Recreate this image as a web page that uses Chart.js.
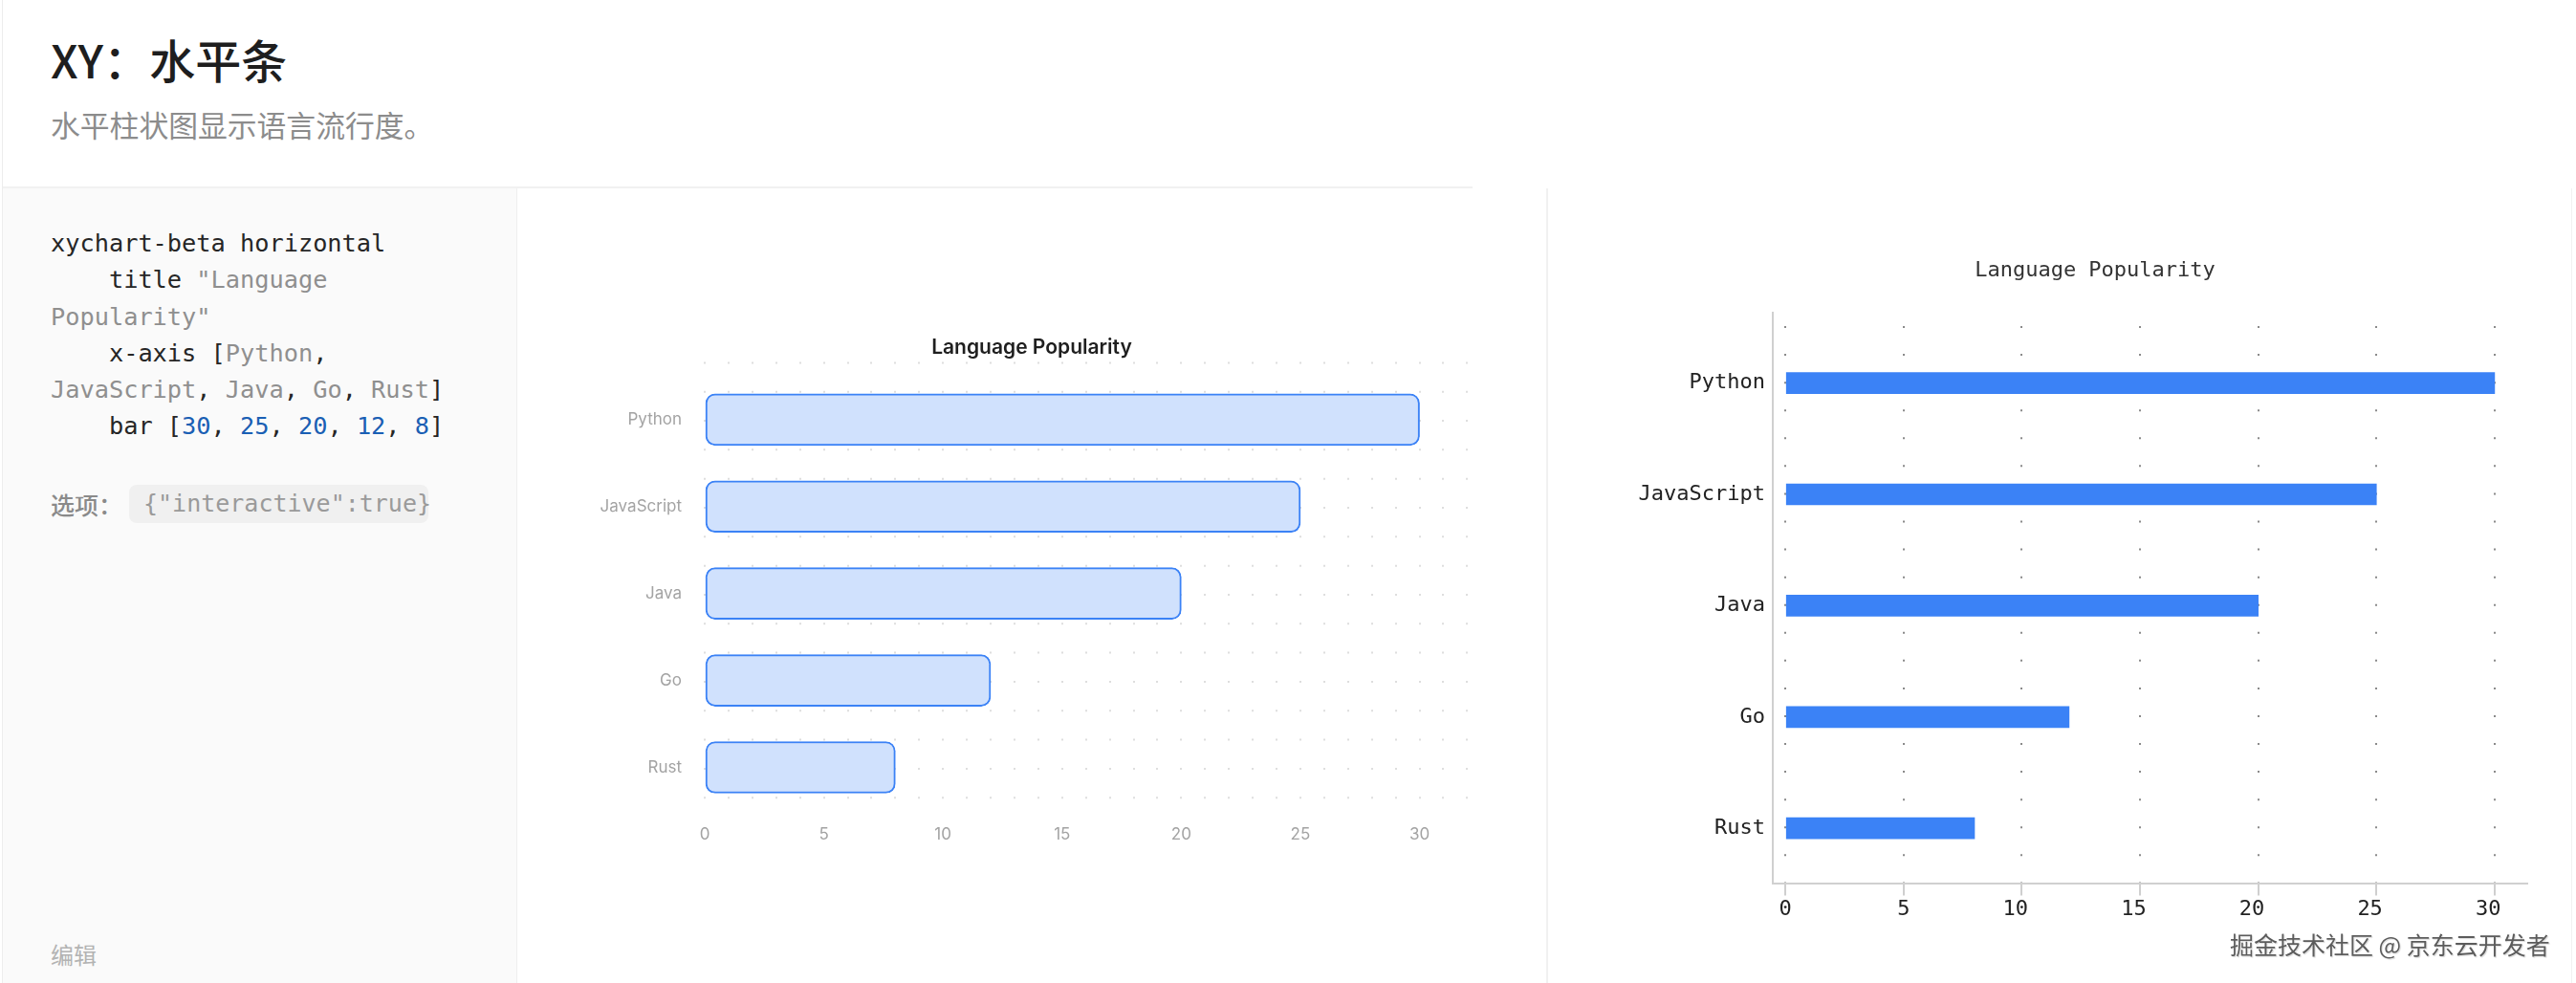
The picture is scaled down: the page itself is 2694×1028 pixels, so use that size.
<!DOCTYPE html>
<html>
<head>
<meta charset="utf-8">
<script src="https://cdn.jsdelivr.net/npm/chart.js@4.4.1/dist/chart.umd.min.js"></script>
<style>
  html, body { margin: 0; padding: 0; }
  body { width: 2694px; height: 1028px; position: relative; overflow: hidden; background: #ffffff; font-family: "Noto Sans CJK SC", "Noto Sans", sans-serif; }
  .abs { position: absolute; }
  #title { left: 53px; top: 37px; font-size: 48px; line-height: 48px; font-weight: 500; color: #1e1e1e; white-space: nowrap; }
  #subtitle { left: 53px; top: 114px; font-size: 30.8px; line-height: 31px; color: #8c8c8c; white-space: nowrap; }
  #codepanel { left: 3px; top: 197px; width: 537px; height: 831px; background: #fafafa; border-right: 1px solid #efefef; }
  #code { left: 53px; top: 236px; margin: 0; font-family: "DejaVu Sans Mono", monospace; font-size: 25.3px; line-height: 38.3px; white-space: pre; color: #262626; }
  .g { color: #8f8f8f; }
  .b { color: #1a5fb4; }
  #optlabel { left: 53px; top: 507px; font-size: 25px; line-height: 40px; color: #8a8a8a; font-weight: 500; }
  #pill { left: 135px; top: 507px; width: 313px; height: 40px; border-radius: 8px; background: #f0f0f0; font-family: "DejaVu Sans Mono", monospace; font-size: 25px; line-height: 40px; color: #9a9a9a; box-sizing: border-box; padding-left: 15px; white-space: nowrap; }
  #edit { left: 53px; top: 986px; font-size: 24px; line-height: 24px; color: #b3b3b3; }
  #watermark { left: 2332px; top: 974px; font-size: 25px; line-height: 26px; color: #5c5c5c; white-space: nowrap; text-shadow: 0 0 2px #ffffff, 1px 1px 1px #d0d0d0; }
  .ctitle { white-space: nowrap; transform: translate(-50%, -50%); }
  #t1 { left: 1079px; top: 362px; font-family: "Inter", sans-serif; font-weight: 600; font-size: 21px; line-height: 25px; color: #1f1f1f; }
  #t2 { left: 2191px; top: 282.4px; font-family: "DejaVu Sans Mono", monospace; font-size: 22px; line-height: 26px; color: #333333; }
</style>
</head>
<body>
  <div class="abs" style="left:2px;top:0;width:1px;height:1028px;background:#ededed;"></div>
  <div class="abs" style="left:3px;top:195px;width:1537px;height:2px;background:#f1f1f1;"></div>
  <div class="abs" style="left:1617px;top:197px;width:2px;height:831px;background:#f1f1f1;"></div>
  <div class="abs" style="left:2689px;top:197px;width:1px;height:831px;background:#f1f1f1;"></div>

  <div id="title" class="abs">XY：水平条</div>
  <div id="subtitle" class="abs">水平柱状图显示语言流行度。</div>

  <div id="codepanel" class="abs"></div>
<pre id="code" class="abs">xychart-beta horizontal
    title <span class="g">"Language</span>
<span class="g">Popularity"</span>
    x-axis [<span class="g">Python</span>,
<span class="g">JavaScript</span>, <span class="g">Java</span>, <span class="g">Go</span>, <span class="g">Rust</span>]
    bar [<span class="b">30</span>, <span class="b">25</span>, <span class="b">20</span>, <span class="b">12</span>, <span class="b">8</span>]</pre>
  <div id="optlabel" class="abs">选项：</div>
  <div id="pill" class="abs">{"interactive":true}</div>
  <div id="edit" class="abs">编辑</div>

  <canvas id="c1" class="abs" style="left:541px;top:310px;" width="1076" height="590"></canvas>
  <canvas id="c2" class="abs" style="left:1620px;top:230px;" width="1074" height="760"></canvas>
  <div id="t1" class="abs ctitle"></div>
  <div id="t2" class="abs ctitle"></div>

  <div id="watermark" class="abs">掘金技术社区 @ 京东云开发者</div>

<script>
// ---- data ----
const categories = ['Python', 'JavaScript', 'Java', 'Go', 'Rust'];
const values = [30, 25, 20, 12, 8];
const xTickLabels = [0, 5, 10, 15, 20, 25, 30];
const chartTitle = 'Language Popularity';

document.getElementById('t1').textContent = chartTitle;
document.getElementById('t2').textContent = chartTitle;

const points = categories.map((c, i) => ({ x: values[i], y: i }));
const catLabel = v => (Number.isInteger(v) && v >= 0 && v < categories.length) ? categories[v] : '';
const xLabel = v => xTickLabels.includes(v) ? String(v) : '';

// ---- middle chart ----
new Chart(document.getElementById('c1'), {
  type: 'bar',
  data: {
    datasets: [{
      data: points,
      backgroundColor: '#d0e1fd',
      borderColor: '#3b82f6',
      borderWidth: 2,
      borderRadius: 10,
      borderSkipped: false,
      barThickness: 54
    }]
  },
  options: {
    indexAxis: 'y',
    responsive: false,
    animation: false,
    devicePixelRatio: 1,
    layout: { padding: { left: 0, right: 82.6, top: 68.4, bottom: 1.6 } },
    plugins: {
      legend: { display: false },
      tooltip: { enabled: false },
      title: { display: false }
    },
    scales: {
      x: {
        type: 'linear', position: 'bottom', min: 0, max: 32, offset: false,
        ticks: {
          stepSize: 1, includeBounds: false, autoSkip: false, maxRotation: 0, minRotation: 0,
          padding: 15, color: '#a3a3a3', font: { family: 'Inter', size: 17 },
          callback: v => xLabel(v)
        },
        grid: { display: true, drawTicks: false, offset: false, color: '#dedede', lineWidth: 2 },
        border: { display: false, dash: [2, 28.32], dashOffset: 0 }
      },
      y: {
        type: 'linear', reverse: true, min: -0.665, max: 4.5, offset: false,
        afterFit: s => { s.width = 196; },
        ticks: {
          stepSize: 1, includeBounds: false, autoSkip: false,
          padding: 24, color: '#a3a3a3', font: { family: 'Inter', size: 17 },
          callback: v => catLabel(v)
        },
        grid: { display: false, drawTicks: false, offset: false },
        border: { display: false }
      }
    }
  }
});

// ---- right chart ----
new Chart(document.getElementById('c2'), {
  type: 'bar',
  data: {
    datasets: [{
      data: points,
      backgroundColor: '#3b82f6',
      borderWidth: 0,
      barThickness: 22
    }]
  },
  options: {
    indexAxis: 'y',
    responsive: false,
    animation: false,
    devicePixelRatio: 1,
    layout: { padding: { left: 0, right: 51, top: 96.7, bottom: 23.2 } },
    plugins: {
      legend: { display: false },
      tooltip: { enabled: false },
      title: { display: false }
    },
    scales: {
      x: {
        type: 'linear', position: 'bottom', min: -0.534, max: 31.38, offset: false,
        ticks: {
          stepSize: 5, includeBounds: false, autoSkip: false, maxRotation: 0, minRotation: 0,
          align: 'end', padding: 2, labelOffset: 6.6, color: '#222222', font: { family: 'DejaVu Sans Mono', size: 22 },
          callback: v => xLabel(v)
        },
        grid: {
          display: true, drawTicks: true, offset: false, tickLength: 12, tickColor: '#cfcfcf', tickWidth: 2, tickBorderDash: [],
          color: '#8a8a8a', lineWidth: 2
        },
        border: { display: true, color: '#d0d0d0', width: 2, dash: [2, 27.07], dashOffset: 14.77 }
      },
      y: {
        type: 'linear', reverse: true, min: -0.635, max: 4.5, offset: false,
        afterFit: s => { s.width = 234; },
        ticks: {
          stepSize: 1, includeBounds: false, autoSkip: false,
          padding: 8, color: '#222222', font: { family: 'DejaVu Sans Mono', size: 22 },
          callback: v => catLabel(v)
        },
        grid: { display: false, drawTicks: false, offset: false },
        border: { display: true, color: '#d0d0d0', width: 2 }
      }
    }
  }
});
</script>
</body>
</html>
